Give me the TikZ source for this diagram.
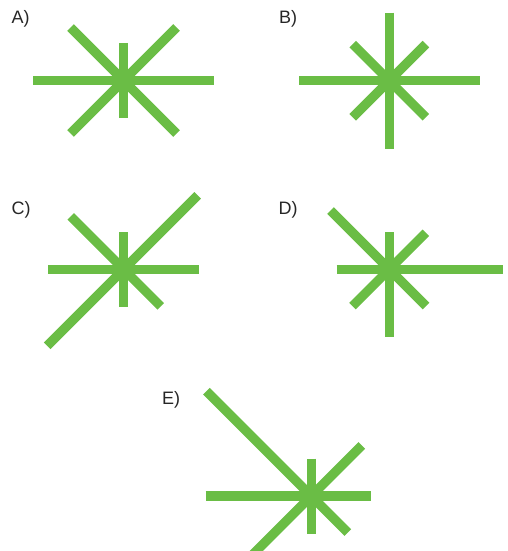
\documentclass[tikz,border=0pt]{standalone}
\usepackage{fontspec}
\setmainfont{Liberation Sans}
\definecolor{stargreen}{RGB}{106,189,69}
\tikzset{
  ray/.style={draw=stargreen, line width=9.3pt, line cap=butt},
  lbl/.style={anchor=base west, inner sep=0pt, font=\fontsize{18}{21}\selectfont, text=black!85}
}
\begin{document}
\begin{tikzpicture}[x=1pt,y=-1pt]
\useasboundingbox (0,0) rectangle (508,551);
\clip (0,0) rectangle (508,551);
% labels
\node[lbl] (la) at (11.5,24) {A)};
\node[lbl] (lb) at (279,24) {B)};
\node[lbl] (lc) at (11.5,214) {C)};
\node[lbl] (ld) at (278.5,214) {D)};
\node[lbl] (le) at (162,404) {E)};
% A
\begin{scope}[shift={(123.5,80.5)}]
  \draw[ray] (-90.5,0) -- (90.5,0);
  \draw[ray] (0,-37.5) -- (0,37.5);
  \draw[ray] (-53,-53) -- (53,53);
  \draw[ray] (53,-53) -- (-53,53);
\end{scope}
% B
\begin{scope}[shift={(389.3,80.7)}]
  \draw[ray] (-90.3,0) -- (91,0);
  \draw[ray] (0,-68) -- (0,68);
  \draw[ray] (-36.6,-36.6) -- (36.6,36.6);
  \draw[ray] (36.6,-36.6) -- (-36.6,36.6);
\end{scope}
% C
\begin{scope}[shift={(123.7,269.3)}]
  \draw[ray] (-75.4,0) -- (75.6,0);
  \draw[ray] (0,-37) -- (0,37.7);
  \draw[ray] (-53,-53) -- (37,37);
  \draw[ray] (74,-74) -- (-76.5,76.5);
\end{scope}
% D
\begin{scope}[shift={(389.3,269.3)}]
  \draw[ray] (-52.6,0) -- (113.4,0);
  \draw[ray] (0,-37) -- (0,68);
  \draw[ray] (-58.8,-58.8) -- (36.8,36.8);
  \draw[ray] (36.5,-36.5) -- (-36.8,36.8);
\end{scope}
% E
\begin{scope}[shift={(311.3,496)}]
  \draw[ray] (-105.6,0) -- (60,0);
  \draw[ray] (0,-37.3) -- (0,37.7);
  \draw[ray] (-104.8,-104.8) -- (36.5,36.5);
  \draw[ray] (50.5,-50.5) -- (-62,62);
\end{scope}
\end{tikzpicture}
\end{document}
